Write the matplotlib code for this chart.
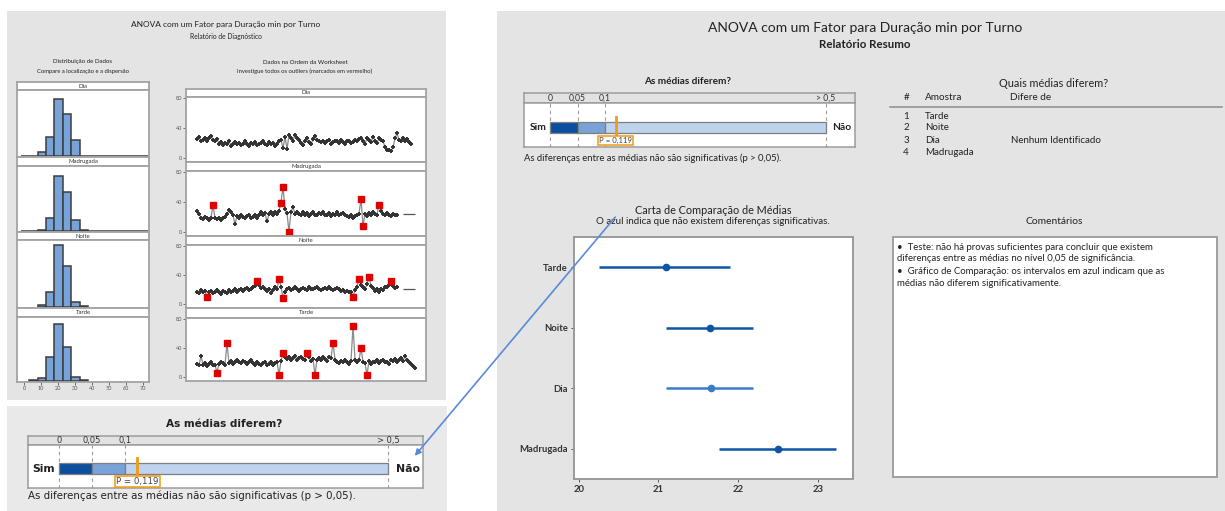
import numpy as np
import matplotlib
matplotlib.use('Agg')
import matplotlib.pyplot as plt
from matplotlib.patches import Rectangle, FancyArrowPatch
from matplotlib.lines import Line2D

plt.rcParams['font.family'] = ['Lato', 'DejaVu Sans']

# ---- data ----
groups = ['Dia', 'Madrugada', 'Noite', 'Tarde']

# histogram: bins of width 5 starting at -2
hist_edges = np.arange(-2, 74, 5)
hist_counts = {
    'Dia':       [0, 0, 25, 115, 350, 255, 95, 0, 0, 0, 0, 0, 0, 0, 0],
    'Madrugada': [0, 0, 8, 78, 340, 240, 70, 8, 0, 0, 0, 0, 0, 0, 0],
    'Noite':     [None, None, 14, 90, 376, 250, 29, 6, None, None, None, None, None, None, None],
    'Tarde':     [None, 6, 20, 152, 360, 216, 27, 6, None, None, None, None, None, None, None],
}
hist_ticks = [0, 10, 20, 30, 40, 50, 60, 70]

# data in worksheet order
dia_ts = [25, 28, 22, 24, 27, 23, 26, 29, 24, 22, 25,
          19, 21, 17, 20, 18, 22, 16, 19, 21, 18, 20, 17, 19, 22, 18, 16, 20, 19, 21, 17,
          18, 20, 22, 19, 17, 21, 18, 20, 16, 19, 22,
          24, 13, 28, 12, 30, 26, 23, 31, 27,
          24, 20, 17, 23, 26, 21, 18, 25, 29, 24, 22,
          21, 23, 20, 22, 24, 19, 21, 23, 22, 20, 24, 21, 19, 23, 22, 20, 21, 24, 22,
          25, 27, 22, 19, 26, 24, 21, 28, 23, 20, 26, 24, 22,
          15, 10, 11, 9, 14,
          26, 33, 24, 22, 27, 23, 25, 21, 19]
madrugada_ts = [28, 24,
                19, 17, 20, 18, 16, 19, 36, 18, 17, 19, 16, 18, 20,
                24, 29, 27, 22,
                10, 21, 19, 22, 20, 18, 21, 23, 19, 20, 22, 18,
                23, 26, 22, 25, 14, 24, 27, 23, 26, 24, 28,
                39, 60, 30, 25, 0, 27, 33, 24, 26,
                24, 22, 26, 23, 25, 21, 24, 27, 23, 22, 25, 24, 26, 22, 23, 25, 21, 24, 23, 26,
                22, 24, 25, 23, 21, 20, 22, 19, 21, 23, 24,
                44, 8, 24, 21, 25, 22, 27, 24, 23,
                36, 28, 24, 22, 25, 23, 21, 24, 22, 23]
noite_ts = [17, 15, 19, 16, 18,
            10,
            16, 18, 15, 17, 19, 16, 14, 18, 17, 15, 19, 17, 18, 20, 16, 19, 21, 18, 20, 22, 19, 21, 23,
            25, 31,
            26, 22, 24, 20, 18, 21, 15, 19, 23, 20,
            34, 24, 8,
            17, 20, 22, 19, 21, 23, 20, 18, 21, 22, 20, 19, 23, 21, 20, 22, 24, 21, 19, 20, 22, 21,
            23, 20, 19, 21, 22, 20, 18, 19, 17, 18, 16, 17,
            10, 19, 24, 35, 26, 23, 21, 27, 37,
            25, 22, 18, 20, 17, 21, 19, 23, 24, 26,
            31, 25, 22, 24]
tarde_ts = [18, 16, 29, 17, 19, 15, 18, 20, 16, 17,
            6, 18, 21, 19, 17, 46,
            19, 22, 18, 20, 23, 21, 19, 22, 20, 18, 21, 23, 19, 17, 20, 18, 16, 19, 21, 17, 18, 20, 16, 19, 21,
            3, 22, 33,
            28, 25, 27, 24, 26, 29, 23, 26, 28, 25, 24,
            33, 27, 22, 25, 3,
            24, 26, 23, 27, 25, 22, 28, 26,
            47, 24, 21, 19, 22, 20, 23, 21, 18, 22,
            70, 24, 20, 23, 40, 21, 19, 3,
            22, 18, 21, 20, 23, 19, 22, 24, 20, 21, 18, 23, 22, 25, 21, 24, 26, 22, 29, 23, 20, 18, 15, 12]
ts_data = {'Dia': dia_ts, 'Madrugada': madrugada_ts, 'Noite': noite_ts, 'Tarde': tarde_ts}
ts_outliers = {'Dia': [],
               'Madrugada': [8, 42, 43, 46, 82, 83, 91],
               'Noite': [5, 30, 41, 43, 78, 81, 86, 97],
               'Tarde': [10, 15, 41, 43, 55, 59, 68, 78, 82, 85]}
ts_dash = ['Madrugada', 'Noite']
ts_ticks = [0, 40, 80]

# p-value bar
p_bounds = [0, 0.05, 0.1, 0.5]
p_colors = ['#0c4f9f', '#79a2d9', '#bed3ee']
p_tick_labels = ['0', '0,05', '0,1', '> 0,5']
p_value = 0.119
p_text = 'P = 0,119'
p_note = 'As diferenças entre as médias não são significativas (p > 0,05).'

# means comparison
cmp_groups = ['Tarde', 'Noite', 'Dia', 'Madrugada']
cmp_mean = [21.09, 21.65, 21.66, 22.50]
cmp_lo = [20.25, 21.09, 21.09, 21.76]
cmp_hi = [21.90, 22.19, 22.19, 23.23]
cmp_colors = ['#0d55a5', '#0d55a5', '#3b7cc8', '#0d55a5']
cmp_ticks = [20, 21, 22, 23]

tbl_num = ['1', '2', '3', '4']
tbl_amostra = ['Tarde', 'Noite', 'Dia', 'Madrugada']
tbl_difere = ['', '', 'Nenhum Identificado', '']

comments = ['•  Teste: não há provas suficientes para concluir que existem',
            'diferenças entre as médias no nível 0,05 de significância.',
            '•  Gráfico de Comparação: os intervalos em azul indicam que as',
            'médias não diferem significativamente.']

# ---- figure helpers (pixel coordinates, y down) ----
W, H = 1225, 511
fig = plt.figure(figsize=(W / 100, H / 100), dpi=100)
fig.patch.set_facecolor('white')


def add_ax(x0, y0, x1, y1, fc='white'):
    ax = fig.add_axes([x0 / W, 1 - y1 / H, (x1 - x0) / W, (y1 - y0) / H])
    ax.set_facecolor(fc)
    return ax


def ftext(x, y, s, **kw):
    kw.setdefault('ha', 'center')
    kw.setdefault('va', 'center')
    kw.setdefault('color', '#222222')
    fig.text(x / W, 1 - y / H, s, **kw)


def panel(x0, y0, x1, y1, color):
    fig.add_artist(Rectangle((x0 / W, 1 - y1 / H), (x1 - x0) / W, (y1 - y0) / H,
                             transform=fig.transFigure, facecolor=color,
                             edgecolor='none', zorder=-5))


def frame(ax, color='#a3a3a3', lw=1.3):
    for s in ax.spines.values():
        s.set_color(color)
        s.set_linewidth(lw)


def strip(x0, y0, x1, y1, label):
    ax = add_ax(x0, y0, x1, y1)
    ax.set_xticks([])
    ax.set_yticks([])
    frame(ax)
    ax.text(0.5, 0.5, label, ha='center', va='center', fontsize=4.3,
            transform=ax.transAxes, color='#333333')


# background panels
panel(7, 11, 446, 400, '#e4e4e4')
panel(7, 406, 447, 511, '#e9e9e9')
panel(497, 11, 1225, 511, '#e4e4e4')

# ---- left: diagnostic report ----
ftext(226, 24, 'ANOVA com um Fator para Duração min por Turno', fontsize=6)
ftext(226, 36, 'Relatório de Diagnóstico', fontsize=4.8)
ftext(83, 62, 'Distribuição de Dados', fontsize=4.4)
ftext(83, 71, 'Compare a localização e a dispersão', fontsize=4.2)
ftext(305, 62, 'Dados na Ordem da Worksheet', fontsize=4.4)
ftext(305, 71, 'Investigue todos os outliers (marcados em vermelho)', fontsize=4.2)

hist_rows = [(82, 90, 157), (157, 166, 232), (232, 240, 308), (308, 317, 382)]
ts_rows = [(89, 97, 162), (162, 171, 236), (236, 245, 308), (308, 318, 381)]

for k, g in enumerate(groups):
    s0, p0, p1 = hist_rows[k]
    strip(17, s0, 149, p0, g)
    ax = add_ax(17, p0, 149, p1)
    frame(ax)
    cnt = hist_counts[g]
    for j, c in enumerate(cnt):
        if c is None:
            continue
        ax.bar(hist_edges[j], c, width=5, align='edge', color='#77a3db',
               edgecolor='#3d3d3d', linewidth=1.1)
    ax.set_xlim(-4.1, 73.8)
    ax.set_ylim(-6, 404)
    ax.set_yticks([])
    if k == len(groups) - 1:
        ax.set_xticks(hist_ticks)
        ax.tick_params(axis='x', labelsize=4, length=2, width=0.6, colors='#555555', pad=1)
    else:
        ax.set_xticks([])

    s0, p0, p1 = ts_rows[k]
    strip(186, s0, 426, p0, g)
    ax = add_ax(186, p0, 426, p1)
    frame(ax)
    y = ts_data[g]
    x = np.arange(len(y))
    ax.plot(x, y, color='#8a8a8a', lw=0.9, zorder=2)
    ax.plot(x, y, ls='none', marker='+', ms=3.2, mew=1.4, color='#333333', zorder=3)
    out = ts_outliers[g]
    if out:
        ax.plot(out, [y[i] for i in out], ls='none', marker='s', ms=4,
                color='#e00000', zorder=4)
    if g in ts_dash:
        ax.plot([len(y) + 5], [np.mean(y)], marker='_', ms=8, mew=0.9, color='#555555')
    ax.set_xlim(-5.5, 114.5)
    ax.set_ylim(-5.5, 81)
    ax.set_xticks([])
    ax.set_yticks(ts_ticks)
    ax.tick_params(axis='y', labelsize=4, length=2, width=0.6, colors='#555555', pad=1)


# ---- p-value bar (used twice) ----
def pbar(x0, y0, x1, y1, hdr, fam, fs_tick, fs_side, fs_p):
    head = add_ax(x0, y0, x1, y0 + hdr, fc='#e2e2e2')
    body = add_ax(x0, y0 + hdr, x1, y1)
    for a in (head, body):
        a.set_xlim(-0.047, 0.553)
        a.set_ylim(0, 1)
        a.set_xticks([])
        a.set_yticks([])
        frame(a, '#9c9c9c', 1.1)
    for t, lab in zip(p_bounds, p_tick_labels):
        head.text(t, 0.45, lab, ha='center', va='center', fontsize=fs_tick,
                  family=fam, color='#333333')
        body.axvline(t, ls=(0, (3, 3)), color='#9a9a9a', lw=0.8, zorder=0)
    for b in range(len(p_colors)):
        body.barh(0.45, p_bounds[b + 1] - p_bounds[b], left=p_bounds[b], height=0.25,
                  color=p_colors[b], edgecolor='#7f7f7f', lw=0.9, zorder=2)
    body.axvline(p_value, ymin=0.245, ymax=0.69, color='#f39a12', lw=2, zorder=3)
    body.text(p_value, 0.15, p_text, ha='center', va='center', fontsize=fs_p,
              family=fam, color='#444444', zorder=4,
              bbox=dict(boxstyle='square,pad=0.15', fc='white', ec='#f39a12', lw=1.1))
    body.text(-0.006, 0.45, 'Sim', ha='right', va='center', fontsize=fs_side,
              weight='bold', family=fam, color='#222222')
    body.text(0.512, 0.45, 'Não', ha='left', va='center', fontsize=fs_side,
              weight='bold', family=fam, color='#222222')


# lower-left copy
ftext(224, 424, 'As médias diferem?', fontsize=7.6, weight='bold', family='DejaVu Sans')
pbar(28, 436, 423, 488, 9, 'DejaVu Sans', 6, 7.8, 6.2)
ftext(28, 496, p_note, fontsize=7.4, ha='left', family='DejaVu Sans')

# ---- right: summary report ----
ftext(865, 28, 'ANOVA com um Fator para Duração min por Turno', fontsize=10)
ftext(865, 44, 'Relatório Resumo', fontsize=8.3, weight='bold')

ftext(688, 82, 'As médias diferem?', fontsize=7.2, weight='bold')
pbar(524, 93, 855, 147, 10, 'Lato', 6.2, 7.4, 5.6)
ftext(524, 158, p_note, fontsize=6.8, ha='left')

# which means differ table
ftext(1054, 83, 'Quais médias diferem?', fontsize=7.8)
ftext(909, 98, '#', fontsize=7, ha='right')
ftext(925, 98, 'Amostra', fontsize=7.2, ha='left')
ftext(1010, 98, 'Difere de', fontsize=7.2, ha='left')
fig.add_artist(Line2D([890 / W, 1222 / W], [1 - 106.7 / H] * 2, color='#8c8c8c', lw=1.1))
row_y = [116.7, 127.7, 140.7, 152.7]
for n, a, d, yy in zip(tbl_num, tbl_amostra, tbl_difere, row_y):
    ftext(909, yy, n, fontsize=7, ha='right')
    ftext(925, yy, a, fontsize=7, ha='left')
    if d:
        ftext(1011, yy, d, fontsize=7, ha='left')

# comparison chart
ftext(713, 210, 'Carta de Comparação de Médias', fontsize=7.8)
ftext(713, 222, 'O azul indica que não existem diferenças significativas.', fontsize=7)
ax = add_ax(574, 237, 853, 479)
frame(ax, '#9a9a9a', 1.4)
yy = np.arange(len(cmp_groups))
for i in range(len(cmp_groups)):
    ax.hlines(yy[i], cmp_lo[i], cmp_hi[i], color=cmp_colors[i], lw=1.8)
    ax.plot(cmp_mean[i], yy[i], 'o', ms=4.5, color=cmp_colors[i])
ax.set_ylim(len(cmp_groups) - 0.5, -0.5)
ax.set_xlim(19.94, 23.44)
ax.set_yticks(yy)
ax.set_yticklabels(cmp_groups)
ax.set_xticks(cmp_ticks)
ax.tick_params(axis='both', labelsize=6.8, length=2.5, width=0.7, colors='#555555', pad=2)
for lab in ax.get_xticklabels() + ax.get_yticklabels():
    lab.set_fontweight('bold')
    lab.set_color('#333333')

# comments
ftext(1054, 222, 'Comentários', fontsize=7.4)
cx = add_ax(893, 237, 1217, 477)
cx.set_xticks([])
cx.set_yticks([])
frame(cx, '#a0a0a0', 1.4)
for yy_, line in zip([247, 258.5, 271.5, 283], comments):
    ftext(897, yy_, line, fontsize=6.9, ha='left')

# arrow linking the two reports
fig.add_artist(FancyArrowPatch((617 / W, 1 - 215 / H), (413 / W, 1 - 458 / H),
                               transform=fig.transFigure, arrowstyle='-|>',
                               mutation_scale=9, color='#5a8ad8', lw=1.2, zorder=10))

fig.savefig('out.png', dpi=100)
